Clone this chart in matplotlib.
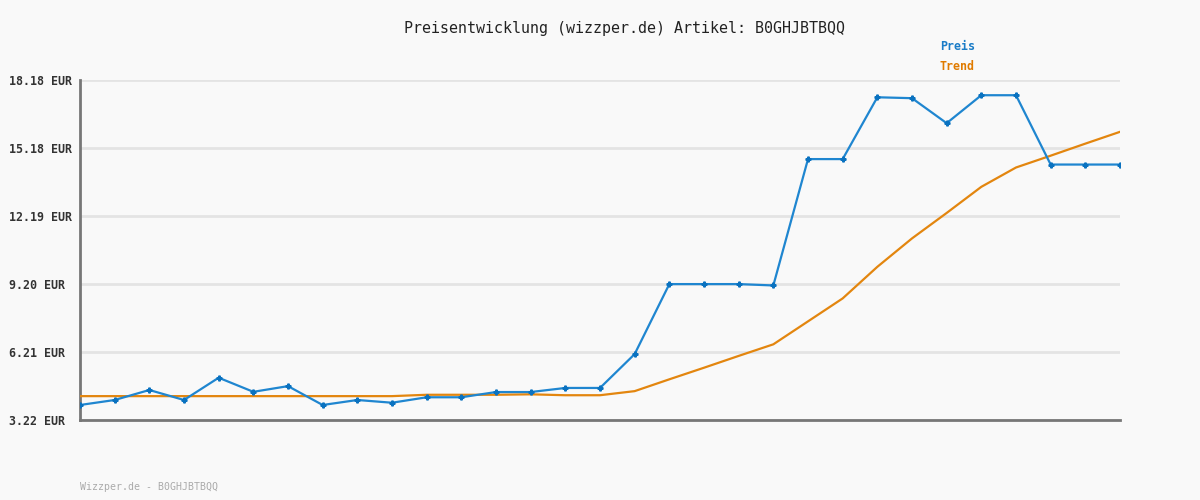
import numpy as np
import matplotlib.pyplot as plt

# price history (31 observations) and trend line, EUR
preis = [3.88, 4.10, 4.54, 4.10, 5.08, 4.46, 4.71, 3.88, 4.10, 3.98,
         4.22, 4.22, 4.45, 4.45, 4.63, 4.63, 6.12, 9.20, 9.20, 9.20,
         9.14, 14.70, 14.70, 17.42, 17.38, 16.28, 17.51, 17.51, 14.46, 14.46,
         14.46]
trend = [4.27, 4.27, 4.27, 4.27, 4.27, 4.27, 4.27, 4.27, 4.27, 4.27,
         4.33, 4.33, 4.33, 4.35, 4.31, 4.31, 4.49, 5.01, 5.52, 6.04,
         6.55, 7.56, 8.57, 9.96, 11.21, 12.33, 13.48, 14.33, 14.85, 15.38,
         15.90]
yticks = [3.22, 6.21, 9.20, 12.19, 15.18, 18.18]
ytick_labels = ["3.22 EUR", "6.21 EUR", "9.20 EUR", "12.19 EUR", "15.18 EUR", "18.18 EUR"]

BG = "#f9f9f9"
BLUE = "#1f86d0"
ORANGE = "#e3860f"
MONO = ["DejaVu Sans Mono"]

fig = plt.figure(figsize=(12, 5), dpi=100, facecolor=BG)
ax = fig.add_axes([80 / 1200, 80 / 500, 1040 / 1200, 340 / 500], facecolor=BG)

x = np.arange(len(preis))
ax.plot(x, trend, color=ORANGE, lw=1.6, zorder=3)
ax.plot(x, preis, color=BLUE, lw=1.6, marker="P", markersize=3.5,
        markerfacecolor="#0a72c0", markeredgecolor="#0a72c0", zorder=4)

ax.set_xlim(0, len(preis) - 1)
ax.set_ylim(yticks[0], yticks[-1])
ax.set_xticks([])
ax.set_yticks(yticks)
ax.set_yticklabels(ytick_labels, family=MONO, fontsize=8.4, fontweight="bold",
                   color="#333333", ha="left")
ax.tick_params(axis="y", length=0, pad=51)

ax.grid(axis="y", color="#e4e4e4", lw=2)
ax.set_axisbelow(True)
for s in ["top", "right"]:
    ax.spines[s].set_visible(False)
for s in ["left", "bottom"]:
    ax.spines[s].set_color("#777777")
    ax.spines[s].set_linewidth(2)

fig.text(624.5 / 1200, 1 - 28 / 500, "Preisentwicklung (wizzper.de) Artikel: B0GHJBTBQQ",
         family=MONO, fontsize=10.8, color="#222222", ha="center", va="center")
fig.text(940 / 1200, 1 - 47 / 500, "Preis", family=MONO, fontsize=8.4,
         fontweight="bold", color="#1a7cc7", ha="left", va="center")
fig.text(940 / 1200, 1 - 67 / 500, "Trend", family=MONO, fontsize=8.4,
         fontweight="bold", color="#e07b00", ha="left", va="center")
fig.text(80 / 1200, 1 - 487 / 500, "Wizzper.de - B0GHJBTBQQ", family=MONO,
         fontsize=7.1, color="#aaaaaa", ha="left", va="center")

fig.savefig("out.png", dpi=100, facecolor=BG)
